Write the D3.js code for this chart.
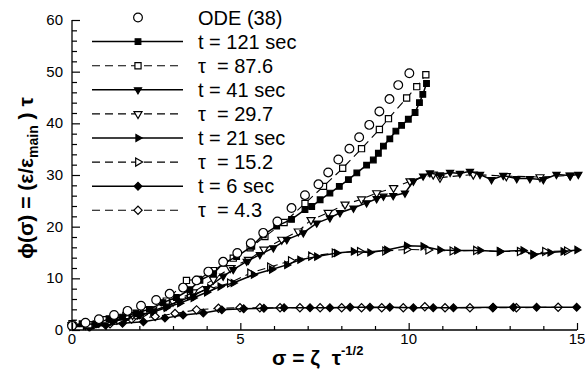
<!DOCTYPE html>
<html>
<head>
<meta charset="utf-8">
<script src="https://cdn.jsdelivr.net/npm/d3@7"></script>
<style>
  body { margin: 0; background: #fff; }
  svg { display: block; font-family: "Liberation Sans", Arial, sans-serif; }
  .tick-label { font-size: 15px; fill: #000; }
  .legend-text { font-size: 20px; fill: #000; white-space: pre; }
  .axis-title { font-size: 21px; font-weight: bold; fill: #000; white-space: pre; }
</style>
</head>
<body>
<svg width="585" height="375"></svg>
<script>
(function (d3) {
  'use strict';

  // sigma, phi pairs
  const ode = [[0.0,0.8],[0.4,1.4],[0.8,2.1],[1.25,2.9],[1.65,3.7],[2.05,4.7],[2.5,5.8],[2.9,7.0],[3.3,8.2],[3.7,9.6],[4.05,11.3],[4.49,13.2],[4.91,14.9],[5.31,16.8],[5.68,18.8],[6.10,21.0],[6.52,23.6],[6.92,26.1],[7.32,28.2],[7.61,30.5],[7.91,33.0],[8.24,35.1],[8.53,37.3],[8.83,39.7],[9.13,42.3],[9.43,44.7],[9.69,47.4],[10.02,49.7]];
  const t121 = [[0.0,0.9],[0.3,1.2],[0.7,1.1],[1.1,2.2],[1.5,2.5],[1.9,3.3],[2.3,4.0],[2.7,5.3],[3.1,6.3],[3.5,7.8],[3.8,9.6],[4.2,10.9],[4.49,12.9],[4.89,14.2],[5.34,16.2],[5.68,18.4],[6.08,20.1],[6.52,21.4],[6.92,23.3],[7.12,23.9],[7.37,25.2],[7.66,26.5],[7.94,27.8],[8.21,29.1],[8.46,30.4],[8.75,31.9],[8.95,32.9],[9.10,34.2],[9.25,35.6],[9.44,37.0],[9.62,38.5],[9.79,39.6],[9.99,40.8],[10.19,42.1],[10.32,44.0],[10.42,45.6],[10.53,47.7]];
  const tau876 = [[0.0,1.2],[0.5,1.0],[1.0,2.0],[1.6,2.8],[2.2,3.8],[2.8,5.6],[3.4,9.6],[3.75,9.8],[4.2,11.5],[4.79,13.9],[5.29,15.9],[5.73,18.1],[6.3,20.8],[6.92,24.5],[7.47,27.8],[8.04,31.3],[8.60,35.1],[9.13,38.8],[9.40,40.9],[9.94,44.9],[10.24,47.1],[10.51,49.4]];
  const t41 = [[0.0,0.8],[0.4,0.9],[0.8,1.3],[1.2,1.8],[1.6,2.4],[2.0,3.0],[2.4,3.7],[2.8,4.6],[3.2,5.6],[3.6,6.6],[4.0,8.0],[4.49,10.4],[4.79,11.7],[5.19,13.3],[5.58,14.6],[5.98,15.9],[6.38,17.5],[6.87,18.8],[7.27,20.7],[7.66,21.7],[7.96,22.7],[8.36,23.6],[8.75,24.6],[9.05,25.4],[9.25,25.9],[9.54,26.0],[9.89,26.5],[10.14,28.8],[10.43,29.8],[10.63,30.4],[10.93,30.0],[11.23,30.5],[11.52,30.3],[11.82,30.7],[12.12,30.1],[12.46,29.1],[12.81,29.9],[13.21,29.3],[13.60,29.3],[14.0,29.1],[14.39,30.1],[14.79,29.9],[15.04,30.1]];
  const tau297 = [[0.0,1.0],[0.6,1.2],[1.2,2.0],[1.8,2.9],[2.4,4.0],[3.0,5.5],[3.6,7.3],[4.2,9.8],[4.7,12.0],[5.24,13.6],[5.7,15.6],[6.23,17.5],[6.72,19.1],[7.1,21.3],[7.61,22.7],[8.11,24.3],[8.6,25.3],[9.05,26.5],[9.55,27.5],[10.04,28.8],[10.73,30.1],[10.93,29.5],[11.92,30.1],[12.9,29.8],[13.9,29.6],[14.8,29.9]];
  const t21 = [[0.0,0.6],[0.4,0.8],[0.8,1.2],[1.2,1.6],[1.6,2.2],[2.0,2.8],[2.4,3.5],[2.8,4.3],[3.2,5.2],[3.6,6.2],[4.0,7.3],[4.40,8.4],[4.79,9.1],[5.39,10.7],[5.93,11.7],[6.38,12.6],[6.77,13.6],[7.27,14.2],[7.86,14.9],[8.36,15.2],[8.85,15.0],[9.35,15.5],[9.94,16.3],[10.43,16.2],[10.93,15.5],[11.43,15.4],[12.12,15.4],[12.71,15.2],[13.40,15.4],[13.70,14.6],[14.2,15.0],[14.59,15.2],[15.0,15.5]];
  const tau152 = [[0.0,0.9],[0.7,1.0],[1.4,1.9],[2.1,3.0],[2.8,4.6],[3.5,6.7],[4.1,8.0],[4.69,9.1],[5.29,11.0],[5.88,12.2],[6.5,13.4],[7.1,14.3],[7.8,14.9],[8.55,15.2],[9.3,15.3],[9.94,15.6],[10.58,15.5],[11.3,15.3],[12.0,15.4],[12.7,15.2],[13.3,15.2],[13.7,14.6],[14.05,15.2],[14.7,15.3]];
  const t6 = [[0.0,1.0],[0.5,0.6],[1.0,0.9],[1.5,1.3],[2.12,1.6],[2.76,2.3],[3.3,2.9],[3.9,3.3],[4.45,3.9],[5.1,4.1],[5.7,4.2],[6.3,4.3],[7.07,4.3],[7.66,4.3],[8.26,4.4],[8.85,4.4],[9.44,4.4],[10.14,4.3],[10.73,4.3],[11.33,4.3],[12.51,4.4],[13.11,4.4],[13.80,4.4],[14.99,4.4]];
  const tau43 = [[0.0,1.0],[0.53,0.6],[1.13,1.2],[1.77,2.1],[2.47,2.6],[3.06,3.2],[3.70,3.9],[4.35,4.2],[4.99,4.3],[5.58,4.3],[6.18,4.3],[6.77,4.3],[7.37,4.3],[8.01,4.3],[8.60,4.3],[9.20,4.3],[9.84,4.3],[10.48,4.5],[11.08,4.3],[11.82,4.3],[12.5,4.3],[13.2,4.3],[14.44,4.4]];

  const labels = ['ODE (38)', 't = 121 sec', '\u03c4  = 87.6', 't = 41 sec', '\u03c4  = 29.7', 't = 21 sec', '\u03c4  = 15.2', 't = 6 sec', '\u03c4  = 4.3'];
  const xTicks = [0, 5, 10, 15];
  const yTicks = [0, 10, 20, 30, 40, 50, 60];

  // line: none / solid / dashed ; marker shape, rotation, filled
  const series = [
    { data: ode,    line: 'none',   shape: d3.symbolCircle,   rot: 0,   fill: false, size: 60 },
    { data: t121,   line: 'solid',  shape: d3.symbolSquare,   rot: 0,   fill: true,  size: 32 },
    { data: tau876, line: 'dashed', shape: d3.symbolSquare,   rot: 0,   fill: false, size: 38 },
    { data: t41,    line: 'solid',  shape: d3.symbolTriangle, rot: 180, fill: true,  size: 22 },
    { data: tau297, line: 'dashed', shape: d3.symbolTriangle, rot: 180, fill: false, size: 28 },
    { data: t21,    line: 'solid',  shape: d3.symbolTriangle, rot: 90,  fill: true,  size: 22 },
    { data: tau152, line: 'dashed', shape: d3.symbolTriangle, rot: 90,  fill: false, size: 28 },
    { data: t6,     line: 'solid',  shape: d3.symbolSquare,   rot: 45,  fill: true,  size: 30 },
    { data: tau43,  line: 'dashed', shape: d3.symbolSquare,   rot: 45,  fill: false, size: 34 }
  ];

  const svg = d3.select('svg');
  const x = d3.scaleLinear().domain([0, 15]).range([72, 577]);
  const y = d3.scaleLinear().domain([0, 60]).range([330, 20]);

  const lineGen = d3.line().x(d => x(d[0])).y(d => y(d[1]));

  const drawLine = (g, s, pts) => {
    if (s.line === 'none') return;
    g.append('path')
      .attr('d', lineGen(pts))
      .attr('fill', 'none')
      .attr('stroke', '#000')
      .attr('stroke-width', s.line === 'solid' ? 1.5 : 1.1)
      .attr('stroke-dasharray', s.line === 'dashed' ? '8,5' : null);
  };

  const drawMarkers = (g, s, pts) => {
    g.selectAll(null).data(pts).enter().append('path')
      .attr('d', d3.symbol().type(s.shape).size(s.size))
      .attr('transform', d => `translate(${x(d[0])},${y(d[1])}) rotate(${s.rot})`)
      .attr('fill', s.fill ? '#000' : '#fff')
      .attr('stroke', '#000')
      .attr('stroke-width', 1.2);
  };

  // plot series, back to front
  const plot = svg.append('g');
  series.slice().reverse().forEach(s => {
    const g = plot.append('g');
    drawLine(g, s, s.data);
    drawMarkers(g, s, s.data);
  });

  // axes
  const xAxisG = svg.append('g').attr('transform', 'translate(0,330)');
  xAxisG.call(d3.axisBottom(x).tickValues(d3.range(0, 16)).tickSize(-4).tickFormat(''));
  xAxisG.selectAll('.tick line').filter(d => d % 5 === 0).attr('y2', -7);
  xAxisG.select('.domain').attr('d', 'M72,0H577').attr('stroke-width', 1.3);
  xAxisG.selectAll('.tick line').attr('stroke-width', 1.2);

  const yAxisG = svg.append('g').attr('transform', 'translate(72,0)');
  yAxisG.call(d3.axisLeft(y).tickValues(d3.range(0, 61, 2)).tickSize(-5).tickFormat(''));
  yAxisG.selectAll('.tick line').filter(d => d % 10 === 0).attr('x2', 8);
  yAxisG.select('.domain').attr('d', 'M0,20V330').attr('stroke-width', 1.3);
  yAxisG.selectAll('.tick line').attr('stroke-width', 1.2);

  svg.append('g').selectAll('text').data(xTicks).enter().append('text')
    .attr('class', 'tick-label')
    .attr('x', d => x(d))
    .attr('y', 344)
    .attr('text-anchor', 'middle')
    .text(d => d);

  svg.append('g').selectAll('text').data(yTicks).enter().append('text')
    .attr('class', 'tick-label')
    .attr('x', 63)
    .attr('y', d => y(d) + 5)
    .attr('text-anchor', 'end')
    .text(d => d);

  // axis titles
  const xt = svg.append('text')
    .attr('class', 'axis-title')
    .attr('x', 272)
    .attr('y', 365);
  xt.append('tspan').text('\u03c3 = \u03b6  \u03c4');
  xt.append('tspan').attr('dy', -10).style('font-size', '13px').text('-1/2');

  const yt = svg.append('text')
    .attr('class', 'axis-title')
    .attr('transform', 'translate(33,178) rotate(-90)')
    .attr('text-anchor', 'middle');
  yt.append('tspan').text('\u03d5(\u03c3) = (\u03b5/\u03b5');
  yt.append('tspan').attr('dy', 5).style('font-size', '14px').text('main');
  yt.append('tspan').attr('dy', -5).text(' ) \u03c4');

  // legend
  const legend = svg.append('g');
  series.forEach((s, i) => {
    const ry = 17.5 + i * 24.1;
    const row = legend.append('g');
    if (s.line !== 'none') {
      row.append('line')
        .attr('x1', 92).attr('x2', 183).attr('y1', ry).attr('y2', ry)
        .attr('stroke', '#000')
        .attr('stroke-width', s.line === 'solid' ? 1.5 : 1.1)
        .attr('stroke-dasharray', s.line === 'dashed' ? '8,5' : null);
    }
    drawMarkers(row, s, [[x.invert(138), y.invert(ry)]]);
    row.append('text')
      .attr('class', 'legend-text')
      .attr('x', 198)
      .attr('y', ry + 7)
      .text(labels[i]);
  });

}(d3));
</script>
</body>
</html>
